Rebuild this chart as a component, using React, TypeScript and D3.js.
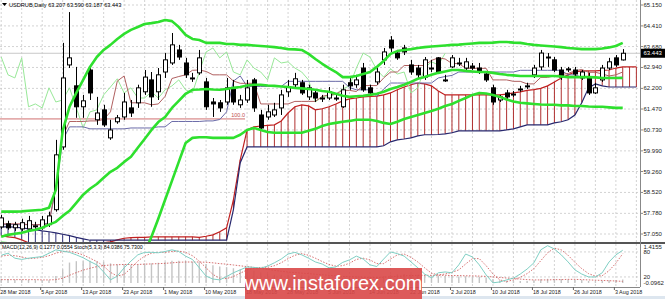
import React from 'react';
import * as d3 from 'd3';

// ---------- data ----------
const X_LABELS = ['28 Mar 2018','5 Apr 2018','13 Apr 2018','23 Apr 2018','1 May 2018','10 May 2018','18 May 2018','28 May 2018','5 Jun 2018','14 Jun 2018','22 Jun 2018','2 Jul 2018','10 Jul 2018','18 Jul 2018','26 Jul 2018','3 Aug 2018'];
const PRICE_TICKS = ['65.150','64.410','63.680','62.940','62.200','61.470','60.730','59.990','59.260','58.520','57.780','57.050'];

const OPEN = [57.30,57.41,57.27,57.23,57.23,57.34,57.27,57.38,57.91,60.13,
63.03,62.29,61.55,62.85,61.09,61.44,60.45,61.02,61.19,61.51,
61.69,62.08,62.50,62.08,62.78,63.10,63.56,63.10,62.57,62.75,
62.43,61.72,61.69,61.72,62.22,61.62,61.79,62.50,61.26,61.19,
61.26,61.51,62.08,62.33,62.40,61.90,62.04,61.86,61.86,61.86,
61.55,62.40,62.33,62.92,62.22,62.43,63.21,63.91,63.45,63.63,
63.03,62.92,62.60,62.92,63.28,62.50,62.96,63.10,62.92,62.99,
62.92,62.71,62.22,61.79,62.04,62.00,62.18,62.29,62.68,62.96,
63.31,63.21,62.85,62.89,62.85,62.57,62.60,62.04,62.50,62.92,
63.28,63.207];
const HIGH = [57.73,57.52,57.48,57.59,57.69,57.48,57.69,57.84,60.38,63.81,
64.90,62.96,61.97,62.99,61.90,61.62,61.09,61.26,62.04,61.79,
62.33,62.85,62.78,62.92,63.45,64.16,63.74,63.28,62.75,63.56,
62.57,61.86,61.79,62.57,62.50,61.97,62.50,62.57,61.44,61.62,
61.69,62.15,62.50,62.75,62.50,62.33,62.15,61.97,62.25,61.97,
62.33,62.60,62.68,63.10,62.33,63.03,63.63,64.05,63.56,63.74,
63.21,63.03,63.31,63.21,63.31,62.68,63.38,63.28,63.28,63.10,
63.10,62.78,62.33,61.97,62.15,62.11,62.29,62.40,63.03,63.56,
63.45,63.31,62.96,62.96,62.96,62.85,62.75,62.40,63.03,63.28,
63.38,63.590];
const LOW = [57.23,57.20,57.16,57.16,57.16,57.23,57.20,57.30,57.84,60.03,
62.92,61.16,61.16,61.79,60.91,60.84,60.38,60.95,61.09,61.19,
61.51,61.97,61.55,61.79,62.57,63.03,63.21,62.57,62.43,62.68,
61.44,61.19,61.37,61.62,61.62,61.51,61.69,61.37,60.73,61.09,
61.19,61.26,61.90,62.22,61.97,61.79,61.72,61.72,61.79,61.76,
61.51,62.15,62.22,62.08,61.97,62.33,63.03,63.49,63.21,63.38,
62.68,62.57,62.50,62.78,62.71,62.43,62.92,62.99,62.85,62.85,
62.71,62.43,61.62,61.72,61.83,61.90,62.08,62.18,62.57,62.85,
62.96,62.78,62.50,62.78,62.64,62.50,61.97,62.00,62.43,62.85,
62.96,63.187];
const CLOSE = [57.62,57.27,57.38,57.45,57.52,57.34,57.55,57.69,59.85,62.57,
63.28,61.55,61.76,62.04,61.33,60.91,60.73,61.16,61.72,61.33,
62.22,62.60,61.90,62.68,63.21,63.74,63.31,62.68,62.57,63.28,
61.55,61.65,61.51,62.22,61.72,61.79,62.22,61.51,60.80,61.37,
61.44,61.97,62.25,62.54,62.04,62.22,61.86,61.86,62.08,61.86,
62.15,62.29,62.50,62.15,62.04,62.78,63.49,63.63,63.28,63.49,
62.78,62.68,63.21,62.92,62.78,62.50,63.28,63.10,63.14,62.92,
62.78,62.50,61.72,61.90,61.90,62.00,62.18,62.29,62.92,63.45,
63.31,62.85,62.60,62.89,62.71,62.78,62.04,62.22,62.92,63.14,
63.03,63.443];

const BB_UPPER = [57.84,57.84,57.84,57.85,57.87,57.89,57.91,57.98,58.61,60.70,
61.55,62.04,62.50,62.96,63.31,63.56,63.74,63.95,64.13,64.27,
64.37,64.48,64.51,64.55,64.62,64.58,64.37,64.09,63.95,63.91,
63.81,63.81,63.81,63.77,63.77,63.74,63.74,63.72,63.70,63.68,
63.66,63.63,63.59,63.58,63.56,63.42,63.24,63.07,62.92,62.78,
62.60,62.60,62.64,62.71,62.78,62.96,63.17,63.42,63.52,63.56,
63.59,63.63,63.66,63.68,63.70,63.72,63.74,63.75,63.77,63.79,
63.81,63.81,63.82,63.84,63.84,63.82,63.81,63.77,63.74,63.72,
63.70,63.68,63.66,63.63,63.61,63.59,63.59,63.59,63.61,63.65,
63.70,63.81];
const BB_MID = [56.95,57.02,57.06,57.09,57.16,57.20,57.27,57.38,57.48,57.69,
57.87,58.15,58.44,58.65,58.82,59.04,59.25,59.39,59.60,59.78,
60.10,60.41,60.73,61.01,61.19,61.51,61.76,62.01,62.15,62.16,
62.18,62.16,62.15,62.18,62.22,62.25,62.30,62.33,62.33,62.30,
62.29,62.27,62.25,62.22,62.20,62.18,62.15,62.11,62.08,62.01,
61.94,61.90,61.92,61.94,61.97,62.01,62.08,62.18,62.25,62.33,
62.43,62.54,62.60,62.68,62.75,62.80,62.85,62.85,62.82,62.80,
62.78,62.78,62.75,62.71,62.68,62.66,62.64,62.64,62.64,62.64,
62.64,62.64,62.62,62.60,62.60,62.60,62.60,62.59,62.57,62.57,
62.57,62.57];
const BB_LOWER = [56.74,56.72,56.70,56.69,56.66,56.62,56.58,56.55,56.30,55.20,
54.20,54.30,54.40,54.30,54.30,54.50,54.80,54.80,55.10,55.30,
55.80,56.39,56.95,57.59,58.26,58.93,59.60,60.27,60.45,60.47,
60.47,60.45,60.45,60.45,60.45,60.56,60.73,60.80,60.73,60.66,
60.63,60.63,60.63,60.63,60.63,60.70,60.77,60.87,60.94,60.98,
61.02,61.05,61.09,61.09,61.09,61.05,60.98,60.94,61.02,61.12,
61.19,61.26,61.33,61.40,61.48,61.58,61.65,61.76,61.86,61.97,
62.04,62.02,61.97,61.90,61.81,61.74,61.69,61.67,61.65,61.63,
61.62,61.62,61.60,61.60,61.58,61.58,61.56,61.55,61.55,61.53,
61.51,61.51];

const TENKAN = [57.41,57.41,57.41,57.41,57.38,57.38,57.38,57.41,58.77,60.49,
61.03,61.03,61.03,61.05,61.05,61.10,61.37,62.46,62.64,61.69,
61.69,61.69,61.62,61.65,61.92,62.55,62.62,62.68,62.84,62.85,
62.80,62.68,62.68,62.68,62.46,62.38,62.38,62.38,61.65,61.65,
61.65,61.65,61.65,61.74,61.74,61.74,61.74,61.92,61.97,62.00,
62.13,62.13,62.09,62.30,62.30,62.30,62.57,62.78,62.78,63.01,
63.01,63.01,63.01,63.19,63.28,63.24,63.08,63.08,62.91,62.91,
62.91,62.91,62.50,62.50,62.50,62.45,62.45,62.36,62.36,62.59,
62.59,62.64,62.69,62.73,62.82,62.87,62.77,62.77,62.71,62.64,
62.68,62.78];
const KIJUN = [57.38,57.38,57.38,57.38,57.38,57.38,57.38,57.45,58.65,60.36,
60.84,60.84,60.84,60.77,60.77,60.77,60.77,60.77,60.77,60.80,
60.80,60.80,60.80,60.84,60.84,61.03,61.03,61.03,61.03,61.03,
61.05,61.05,61.10,61.37,62.46,62.64,62.27,62.27,62.27,62.27,
62.27,62.27,62.45,62.45,62.45,62.45,62.45,62.45,62.45,62.45,
62.45,62.23,62.15,62.15,62.15,61.92,62.18,62.39,62.39,62.39,
62.39,62.39,62.39,62.39,62.57,62.62,62.66,62.78,62.78,62.78,
62.78,62.78,62.78,62.78,62.78,62.78,62.84,62.84,62.84,62.84,
62.84,62.84,62.84,62.68,62.68,62.59,62.59,62.59,62.59,62.59,
62.59,62.60];
const SPAN_A = [56.99,56.95,56.92,56.84,56.74,56.67,56.60,56.56,56.53,56.53,
56.56,56.60,56.63,56.67,56.70,56.74,56.77,56.84,56.90,56.92,
56.93,56.93,56.95,56.95,56.95,56.95,56.95,56.95,56.95,56.93,
56.97,57.02,57.13,57.27,58.26,59.67,60.73,60.84,60.87,60.89,
60.91,61.05,61.33,61.55,61.62,61.58,61.44,61.48,61.55,61.65,
61.76,61.83,61.86,61.90,61.92,61.93,61.97,62.04,62.15,62.25,
62.33,62.39,62.36,62.29,62.11,61.97,61.97,61.97,61.97,61.97,
61.97,61.97,61.97,61.97,62.00,62.04,62.08,62.13,62.16,62.20,
62.29,62.43,62.57,62.68,62.78,62.82,62.82,62.82,62.84,62.85,
62.92,62.96,62.96,62.96];
const SPAN_B = [57.30,57.30,57.29,57.27,57.23,57.20,57.16,57.13,57.09,57.04,
56.99,56.93,56.88,56.83,56.83,56.83,56.83,56.83,56.83,56.83,
56.83,56.83,56.83,56.83,56.83,56.83,56.83,56.83,56.83,56.83,
56.83,56.83,56.83,56.83,57.91,59.57,60.13,60.13,60.13,60.13,
60.13,60.13,60.13,60.13,60.13,60.13,60.13,60.13,60.13,60.13,
60.13,60.13,60.13,60.13,60.13,60.13,60.17,60.31,60.38,60.41,
60.45,60.52,60.56,60.56,60.57,60.59,60.63,60.70,60.70,60.70,
60.70,60.70,60.70,60.70,60.73,60.77,60.84,60.91,60.91,60.91,
60.91,60.98,61.02,61.09,61.26,61.69,62.22,62.36,62.29,62.25,
62.25,62.25,62.25,62.25];

const STOCH_MAIN = [72,77,65,62,65,67,69,77,85,82,
79,73,66,57,49,32,13,22,42,58,
73,79,79,78,81,85,81,70,62,42,
22,15,13,21,30,37,44,43,41,46,
54,63,75,79,73,65,56,51,42,44,
55,61,70,63,49,45,63,80,76,70,
56,42,27,18,30,32,30,49,75,68,
49,25,6,8,13,17,27,39,54,85,
95,87,73,56,37,27,20,20,30,56,
73,84.0386];
const STOCH_SIGNAL = [70,72,71,68,64,65,67,71,77,81,
82,78,73,65,57,46,31,22,26,41,
58,70,77,79,79,81,82,79,71,58,
42,26,17,16,21,29,37,41,43,43,
47,54,64,72,76,72,65,57,50,46,
47,53,62,65,61,52,52,63,73,75,
67,56,42,29,25,27,31,37,51,64,
64,47,27,13,9,13,19,28,40,59,
78,89,85,72,55,40,28,22,23,35,
53,75.73];
const MACD_MAIN = [0.15,0.14,0.12,0.12,0.11,0.10,0.10,0.10,0.25,0.50,
0.75,0.80,0.80,0.82,0.80,0.78,0.72,0.68,0.68,0.66,
0.68,0.72,0.72,0.74,0.78,0.82,0.82,0.80,0.78,0.76,
0.70,0.65,0.60,0.58,0.54,0.50,0.48,0.45,0.38,0.34,
0.30,0.30,0.30,0.30,0.28,0.27,0.25,0.22,0.20,0.18,
0.18,0.19,0.20,0.20,0.18,0.20,0.25,0.30,0.32,0.33,
0.32,0.30,0.30,0.28,0.27,0.25,0.25,0.24,0.24,0.23,
0.22,0.20,0.14,0.10,0.08,0.07,0.07,0.07,0.09,0.13,
0.15,0.15,0.14,0.13,0.12,0.11,0.07,0.06,0.08,0.10,
0.11,0.1277];
const MACD_SIGNAL = [0.12,0.12,0.12,0.12,0.12,0.12,0.11,0.11,0.12,0.17,
0.28,0.38,0.47,0.54,0.60,0.64,0.66,0.67,0.68,0.68,
0.68,0.69,0.70,0.71,0.72,0.74,0.76,0.77,0.77,0.77,
0.76,0.74,0.71,0.69,0.66,0.63,0.60,0.57,0.53,0.50,
0.46,0.43,0.40,0.38,0.36,0.34,0.32,0.30,0.28,0.26,
0.24,0.23,0.22,0.21,0.20,0.20,0.21,0.22,0.24,0.26,
0.27,0.28,0.28,0.28,0.28,0.28,0.27,0.27,0.26,0.26,
0.25,0.24,0.22,0.20,0.18,0.16,0.14,0.12,0.11,0.11,
0.11,0.12,0.12,0.13,0.13,0.12,0.11,0.10,0.09,0.08,
0.07,0.0554];

// ---------- layout ----------
const W = 665, H = 299;
const PR = 640; // right edge of plot
const MAIN_B = 242;
const SUB_T = 244, SUB_B = 287;
const FONT = 'Liberation Sans, Arial, sans-serif';

const x = d3.scaleLinear().domain([0, 93.53]).range([1.2, PR]);
const y = d3.scaleLinear().domain([57.05, 65.15]).range([234, 5]);
const yS = d3.scaleLinear().domain([0, 100]).range([285.3, 243.6]);
const yM = d3.scaleLinear().domain([-0.0962, 1.4155]).range([285.5, 244.5]);

const lineMain = d3.line<number>().x((_, i) => x(i)).y(d => y(d));
const lineStoch = d3.line<number>().x((_, i) => x(i)).y(d => yS(d));
const lineMacd = d3.line<number>().x((_, i) => x(i)).y(d => yM(d));
const chikouLine = d3.line<[number, number]>().x(d => x(d[0])).y(d => y(d[1]));

export default function App() {
  const gridXs = d3.range(0, 94, 3);
  const lastClose = CLOSE[CLOSE.length - 1];
  const chikou: [number, number][] = CLOSE.slice(26).map((c, j) => [j, c]);
  const levelPrice = 61.12;
  return (
    <svg width={W} height={H} style={{ position: 'absolute', left: 0, top: 0, background: '#fff' }} fontFamily={FONT}>
      <defs>
        <clipPath id="mainClip"><rect x={0} y={0} width={PR} height={MAIN_B} /></clipPath>
        <clipPath id="subClip"><rect x={0} y={SUB_T} width={PR} height={SUB_B - SUB_T} /></clipPath>
      </defs>
      <rect width={W} height={H} fill="#fff" />
      {/* grid */}
      <g stroke="#c8c8c8" strokeWidth={0.8} strokeDasharray="2,2">
        {gridXs.map(i => (
          <line key={'gx' + i} x1={x(i)} x2={x(i)} y1={0} y2={SUB_B} />
        ))}
        {PRICE_TICKS.map(t => (
          <line key={'gy' + t} x1={0} x2={PR} y1={y(+t)} y2={y(+t)} />
        ))}
        {[80, 20].map(v => (
          <line key={'gs' + v} x1={0} x2={PR} y1={yS(v)} y2={yS(v)} />
        ))}
      </g>

      {/* main pane */}
      <g clipPath="url(#mainClip)">
        {/* level line */}
        <line x1={0} x2={245} y1={y(levelPrice)} y2={y(levelPrice)} stroke="#d07070" strokeWidth={1} />
        <text x={245} y={y(levelPrice) - 2} fontSize={5.5} fill="#c05050" textAnchor="end">100.0</text>
        {/* bid line */}
        <line x1={0} x2={PR} y1={y(lastClose)} y2={y(lastClose)} stroke="#c8c8c8" strokeWidth={1} />
        {/* cloud hatch */}
        {SPAN_A.map((a, i) => (
          <line key={'h' + i} x1={x(i)} x2={x(i)} y1={y(a)} y2={y(SPAN_B[i])}
            stroke={a >= SPAN_B[i] ? '#b03030' : '#303078'} strokeWidth={1} />
        ))}
        <path d={lineMain(SPAN_A) || ''} fill="none" stroke="#c02020" strokeWidth={1.2} />
        <path d={lineMain(SPAN_B) || ''} fill="none" stroke="#28286e" strokeWidth={1.2} />
        {/* ichimoku lines */}
        <path d={chikouLine(chikou) || ''} fill="none" stroke="#98e898" strokeWidth={1} />
        <path d={lineMain(KIJUN) || ''} fill="none" stroke="#6a6aa8" strokeWidth={1} />
        <path d={lineMain(TENKAN) || ''} fill="none" stroke="#b06060" strokeWidth={1} />
        {/* candles */}
        {OPEN.map((o, i) => {
          const c = CLOSE[i];
          const cx = Math.round(x(i)) + 0.5;
          const top = y(Math.max(o, c));
          const bot = y(Math.min(o, c));
          const bull = c >= o;
          const h = Math.max(bot - top, 1);
          return (
            <g key={'c' + i}>
              <line x1={cx} x2={cx} y1={y(HIGH[i])} y2={y(LOW[i])} stroke="#000" strokeWidth={1} />
              <rect x={cx - 2} y={top} width={4} height={h} fill={bull ? '#fff' : '#000'} stroke="#000" strokeWidth={1} />
            </g>
          );
        })}
        {/* bollinger */}
        <g fill="none" stroke="#2ee02e" strokeWidth={2.6} strokeLinejoin="round">
          <path d={lineMain(BB_UPPER) || ''} />
          <path d={lineMain(BB_MID) || ''} />
          <path d={lineMain(BB_LOWER) || ''} />
        </g>
      </g>

      {/* title */}
      <path d="M2,3 L7,3 L4.5,6 Z" fill="#000" />
      <text x={9} y={7} fontSize={5.6} fill="#000">USDRUB,Daily  63.207 63.590 63.187 63.443</text>

      {/* separator */}
      <line x1={0} x2={W} y1={243} y2={243} stroke="#555" strokeWidth={2} />
      <line x1={0} x2={PR} y1={SUB_B + 0.5} y2={SUB_B + 0.5} stroke="#888" strokeWidth={1} />
      <line x1={PR + 0.5} x2={PR + 0.5} y1={0} y2={SUB_B} stroke="#888" strokeWidth={1} />

      {/* sub pane */}
      <g clipPath="url(#subClip)">
        {MACD_MAIN.map((v, i) => (
          <line key={'m' + i} x1={x(i)} x2={x(i)} y1={yM(0)} y2={yM(v)} stroke="#c4c4c4" strokeWidth={1.4} />
        ))}
        <path d={lineMacd(MACD_SIGNAL) || ''} fill="none" stroke="#d06060" strokeWidth={0.9} strokeDasharray="1.5,1.5" />
        <path d={lineStoch(STOCH_SIGNAL) || ''} fill="none" stroke="#d06060" strokeWidth={0.9} strokeDasharray="1.5,1.5" />
        <path d={lineStoch(STOCH_MAIN) || ''} fill="none" stroke="#7fcfc4" strokeWidth={1} />
      </g>
      <text x={2} y={249} fontSize={5.2} fill="#000">MACD(12,26,9) 0.1277 0.0554  Stoch(5,3,3) 84.0386 75.7300</text>

      {/* right axis */}
      <g fontSize={6} fill="#222">
        {PRICE_TICKS.map(t => (
          <g key={'yl' + t}>
            <line x1={PR} x2={PR + 3} y1={y(+t)} y2={y(+t)} stroke="#888" />
            <text x={PR + 3.5} y={y(+t) + 2}>{t}</text>
          </g>
        ))}
        <rect x={PR + 1} y={y(lastClose) - 4.5} width={24} height={9} fill="#000" />
        <text x={PR + 3.5} y={y(lastClose) + 2} fill="#fff">{lastClose.toFixed(3)}</text>
        <text x={PR + 3.5} y={248.5}>1.4155</text>
        <text x={PR + 3.5} y={yS(80) + 2}>80</text>
        <text x={PR + 3.5} y={yS(20) + 2}>20</text>
        <text x={PR + 3.5} y={285}>-0.0962</text>
      </g>

      {/* x axis */}
      <g fontSize={5.4} fill="#222">
        {X_LABELS.map((l, k) => {
          const i = k * 6;
          return (
            <g key={'xl' + k}>
              <line x1={x(i) - 1.5} x2={x(i) - 1.5} y1={SUB_B} y2={SUB_B + 3} stroke="#666" />
              <text x={x(i) - 1} y={294}>{l}</text>
            </g>
          );
        })}
      </g>

      {/* watermark */}
      <rect x={245} y={268} width={177} height={31} fill="#d94848" opacity={0.9} />
      <text x={333.5} y={290} fontSize={20} fill="#fff" textAnchor="middle" fontFamily="Liberation Sans, Arial, sans-serif">www.instaforex.com</text>
      <rect x={0} y={296} width={245} height={3} fill="#dde6ef" />
      <rect x={422} y={296} width={243} height={3} fill="#dde6ef" />
    </svg>
  );
}
